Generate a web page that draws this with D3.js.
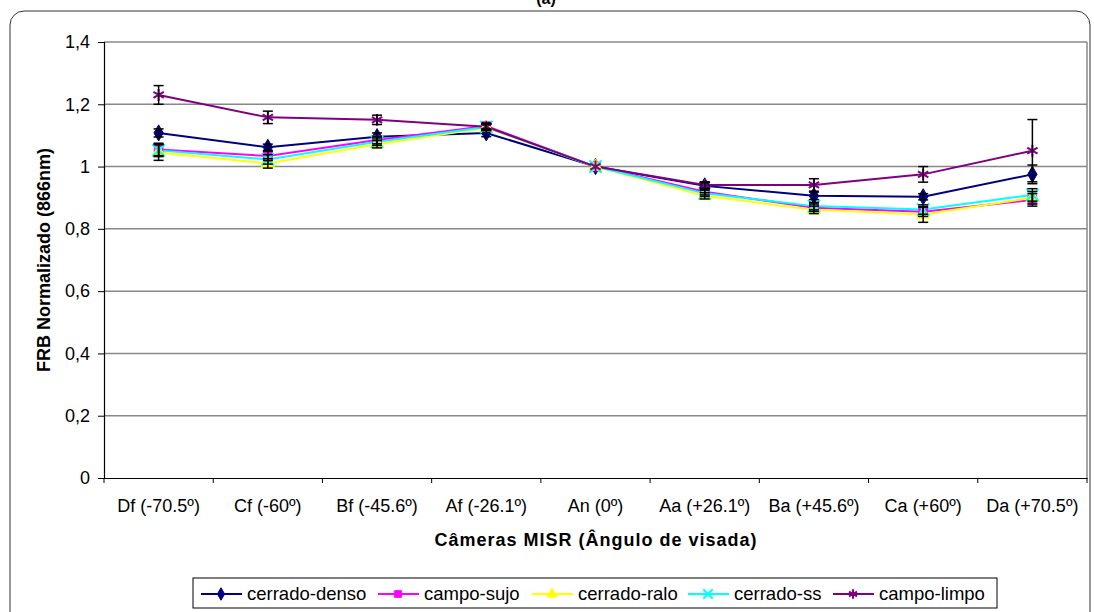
<!DOCTYPE html>
<html>
<head>
<meta charset="utf-8">
<script src="https://cdn.jsdelivr.net/npm/d3@7"></script>
<style>
  body { margin: 0; background: #fff; }
  text { font-family: "Liberation Sans", Arial, sans-serif; }
</style>
</head>
<body>
<div id="chart"></div>
<script>
// data
var cameras = ["Df (-70.5º)", "Cf (-60º)", "Bf (-45.6º)", "Af (-26.1º)", "An (0º)",
  "Aa (+26.1º)", "Ba (+45.6º)", "Ca (+60º)", "Da (+70.5º)"];
var yTicks = [0, 0.2, 0.4, 0.6, 0.8, 1, 1.2, 1.4];

var cerradoDenso = [1.108, 1.062, 1.096, 1.108, 1.0, 0.938, 0.906, 0.903, 0.975];
var campoSujo = [1.055, 1.034, 1.085, 1.13, 1.0, 0.919, 0.868, 0.855, 0.893];
var cerradoRalo = [1.045, 1.010, 1.072, 1.125, 1.0, 0.906, 0.861, 0.846, 0.900];
var cerradoSS = [1.052, 1.023, 1.08, 1.127, 1.0, 0.914, 0.873, 0.862, 0.909];
var campoLimpo = [1.230, 1.158, 1.150, 1.128, 1.0, 0.941, 0.941, 0.975, 1.051];

var errDenso = [0.013, 0.01, 0.012, 0.012, 0, 0.01, 0.012, 0.01, 0.03];
var errSujo = [0.02, 0.015, 0.012, 0.01, 0, 0.01, 0.012, 0.015, 0.02];
var errRalo = [0.025, 0.015, 0.012, 0.01, 0, 0.01, 0.012, 0.025, 0.02];
var errSS = [0.02, 0.015, 0.012, 0.01, 0, 0.01, 0.012, 0.015, 0.02];
var errLimpo = [0.03, 0.02, 0.015, 0.01, 0, 0.01, 0.02, 0.025, 0.1];

var seriesNames = ["cerrado-denso", "campo-sujo", "cerrado-ralo", "cerrado-ss", "campo-limpo"];
var seriesValues = [cerradoDenso, campoSujo, cerradoRalo, cerradoSS, campoLimpo];
var seriesErrors = [errDenso, errSujo, errRalo, errSS, errLimpo];
var seriesColors = ["#000080", "#ff00ff", "#ffff00", "#00ffff", "#800080"];
var seriesSymbols = [d3.symbolDiamond, d3.symbolSquare, d3.symbolTriangle, d3.symbolTimes, d3.symbolAsterisk];

var svgWidth = 1094;
var svgHeight = 612;
var margin = { top: 42, right: 7, bottom: 134, left: 104 };
var width = svgWidth - margin.left - margin.right;
var height = svgHeight - margin.top - margin.bottom;

var svg = d3.select("#chart").append("svg")
  .attr("width", svgWidth)
  .attr("height", svgHeight);

// outer chart frame
svg.append("rect")
  .attr("x", 10).attr("y", 11)
  .attr("width", 1080).attr("height", 640)
  .attr("rx", 14)
  .attr("fill", "none")
  .attr("stroke", "#333")
  .attr("stroke-width", 1);

// title, cut off at the top as in the original figure
svg.append("text")
  .attr("x", 546).attr("y", 4)
  .attr("text-anchor", "middle")
  .style("font-size", "16px")
  .style("font-weight", "bold")
  .text("(a)");

var chartGroup = svg.append("g")
  .attr("transform", `translate(${margin.left}, ${margin.top})`);

var x = d3.scaleBand().domain(cameras).range([0, width]).padding(0);
var xEdge = d3.scaleLinear().domain([0, cameras.length]).range([0, width]);
var y = d3.scaleLinear().domain([0, 1.4]).range([height, 0]);

// gridlines
chartGroup.append("g")
  .selectAll("line")
  .data(yTicks.filter(d => d > 0))
  .enter()
  .append("line")
  .attr("x1", 0).attr("x2", width)
  .attr("y1", d => y(d)).attr("y2", d => y(d))
  .attr("stroke", "#888")
  .attr("stroke-width", 1.5);

// right border of plot area
chartGroup.append("line")
  .attr("x1", width).attr("x2", width)
  .attr("y1", 0).attr("y2", height)
  .attr("stroke", "#888")
  .attr("stroke-width", 1.5);

// y axis
var leftAxis = d3.axisLeft(y)
  .tickValues(yTicks)
  .tickSize(6)
  .tickPadding(8)
  .tickFormat(d => String(+d.toFixed(1)).replace(".", ","));

var yAxis = chartGroup.append("g").call(leftAxis);
yAxis.select(".domain").attr("stroke", "#000").attr("stroke-width", 1.2);
yAxis.selectAll(".tick line").attr("stroke", "#000");
yAxis.selectAll("text").style("font-size", "18px").attr("fill", "#000");

// x axis: labels centred in the bands, ticks on the band edges
var bottomAxis = d3.axisBottom(x).tickSize(0).tickPadding(21);
var xAxis = chartGroup.append("g")
  .attr("transform", `translate(0, ${height})`)
  .call(bottomAxis);
xAxis.select(".domain").attr("stroke", "#000").attr("stroke-width", 1.2);
xAxis.selectAll("text").style("font-size", "18px").attr("fill", "#000");

chartGroup.append("g")
  .attr("transform", `translate(0, ${height})`)
  .selectAll("line")
  .data(d3.range(cameras.length + 1))
  .enter()
  .append("line")
  .attr("x1", d => xEdge(d)).attr("x2", d => xEdge(d))
  .attr("y1", 0).attr("y2", 5)
  .attr("stroke", "#000");

// axis titles
svg.append("text")
  .attr("transform", "translate(50, 260) rotate(-90)")
  .attr("text-anchor", "middle")
  .style("font-size", "18px")
  .style("font-weight", "bold")
  .text("FRB Normalizado (866nm)");

svg.append("text")
  .attr("x", 596).attr("y", 546)
  .attr("text-anchor", "middle")
  .style("font-size", "18px")
  .style("font-weight", "bold")
  .style("letter-spacing", "1px")
  .text("Câmeras MISR (Ângulo de visada)");

var cx = d => x(d) + x.bandwidth() / 2;

// lines
var line = d3.line()
  .x((d, i) => cx(cameras[i]))
  .y(d => y(d));

seriesValues.forEach(function (vals, s) {
  chartGroup.append("path")
    .datum(vals)
    .attr("d", line)
    .attr("fill", "none")
    .attr("stroke", seriesColors[s])
    .attr("stroke-width", 2);
});

// markers
function drawMarker(g, s, px, py, size) {
  var stroked = s >= 3;
  g.append("path")
    .attr("transform", `translate(${px}, ${py})`)
    .attr("d", d3.symbol().type(seriesSymbols[s]).size(size)())
    .attr("fill", stroked ? "none" : seriesColors[s])
    .attr("stroke", seriesColors[s])
    .attr("stroke-width", stroked ? 2 : 1);
}

seriesValues.forEach(function (vals, s) {
  var g = chartGroup.append("g");
  vals.forEach(function (v, i) {
    drawMarker(g, s, cx(cameras[i]), y(v), s >= 3 ? 100 : 75);
  });
});

// error bars
seriesValues.forEach(function (vals, s) {
  var g = chartGroup.append("g").attr("stroke", "#000").attr("stroke-width", 1.5);
  vals.forEach(function (v, i) {
    var e = seriesErrors[s][i];
    if (!e) return;
    var px = cx(cameras[i]);
    g.append("line").attr("x1", px).attr("x2", px).attr("y1", y(v - e)).attr("y2", y(v + e));
    g.append("line").attr("x1", px - 5).attr("x2", px + 5).attr("y1", y(v - e)).attr("y2", y(v - e));
    g.append("line").attr("x1", px - 5).attr("x2", px + 5).attr("y1", y(v + e)).attr("y2", y(v + e));
  });
});

// legend
var legend = svg.append("g");
legend.append("rect")
  .attr("x", 193).attr("y", 578)
  .attr("width", 804).attr("height", 30)
  .attr("fill", "#fff")
  .attr("stroke", "#000")
  .attr("stroke-width", 1);

var legendX = [201, 378, 532, 688, 833];
seriesNames.forEach(function (name, s) {
  var lx = legendX[s];
  legend.append("line")
    .attr("x1", lx).attr("x2", lx + 41)
    .attr("y1", 594).attr("y2", 594)
    .attr("stroke", seriesColors[s])
    .attr("stroke-width", 2);
  drawMarker(legend, s, lx + 20, 594, s >= 3 ? 60 : 45);
  legend.append("text")
    .attr("x", lx + 46).attr("y", 600)
    .style("font-size", "18.5px")
    .text(name);
});
</script>
</body>
</html>
